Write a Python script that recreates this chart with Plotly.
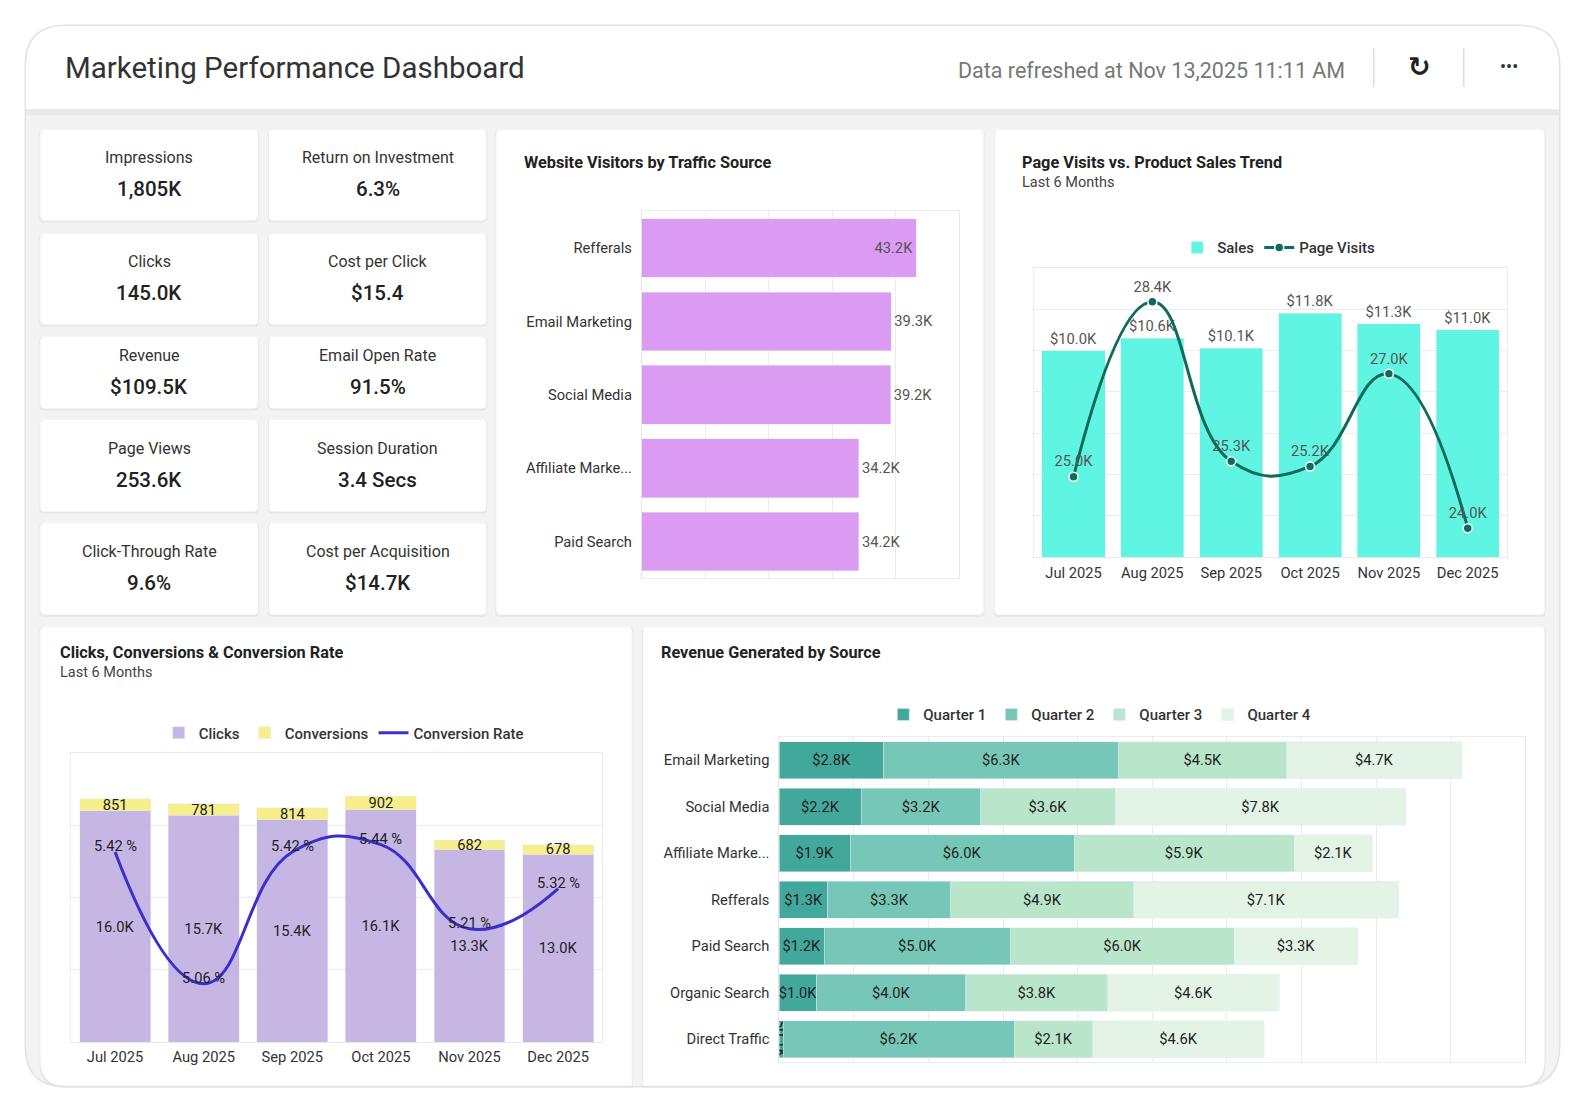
import plotly.graph_objects as go

# ---- data ----
kpi_labels = ["Impressions", "Return on Investment", "Clicks", "Cost per Click",
              "Revenue", "Email Open Rate", "Page Views", "Session Duration",
              "Click-Through Rate", "Cost per Acquisition"]
kpi_values = ["1,805K", "6.3%", "145.0K", "$15.4", "$109.5K", "91.5%",
              "253.6K", "3.4 Secs", "9.6%", "$14.7K"]

traffic_sources = ["Refferals", "Email Marketing", "Social Media", "Affiliate Marke...", "Paid Search"]
visitors_k = [43.2, 39.3, 39.2, 34.2, 34.2]

months = ["Jul 2025", "Aug 2025", "Sep 2025", "Oct 2025", "Nov 2025", "Dec 2025"]
sales_k = [10.0, 10.6, 10.1, 11.8, 11.3, 11.0]
page_visits_k = [25.0, 28.4, 25.3, 25.2, 27.0, 24.0]

clicks_k = [16.0, 15.7, 15.4, 16.1, 13.3, 13.0]
conversions = [851, 781, 814, 902, 682, 678]
conv_rate = [5.42, 5.06, 5.42, 5.44, 5.21, 5.32]

rev_sources = ["Email Marketing", "Social Media", "Affiliate Marke...", "Refferals",
               "Paid Search", "Organic Search", "Direct Traffic"]
quarters = ["Quarter 1", "Quarter 2", "Quarter 3", "Quarter 4"]
rev_q1 = [2.8, 2.2, 1.9, 1.3, 1.2, 1.0, 0.1]
rev_q2 = [6.3, 3.2, 6.0, 3.3, 5.0, 4.0, 6.2]
rev_q3 = [4.5, 3.6, 5.9, 4.9, 6.0, 3.8, 2.1]
rev_q4 = [4.7, 7.8, 2.1, 7.1, 3.3, 4.6, 4.6]

# ---- layout helpers ----
# positions below are measured on a 1569x1100 grid of the page;
# the html body adds an 8px margin, so the figure itself is 1570x1096
W, H = 1569, 1100
FIG_W, FIG_H = 1570, 1096
FONT = "Roboto"
FS = 14.7


def X(x):
    return (x * 1586 / W - 8) / FIG_W


def Y(y):
    return 1 - (y * 1112 / H - 8) / FIG_H


def box(x0, y0, x1, y1, r=(4, 4, 4, 4)):
    tl, tr, br, bl = r
    p = f"M{X(x0 + tl)},{Y(y0)} L{X(x1 - tr)},{Y(y0)} Q{X(x1)},{Y(y0)} {X(x1)},{Y(y0 + tr)} "
    p += f"L{X(x1)},{Y(y1 - br)} Q{X(x1)},{Y(y1)} {X(x1 - br)},{Y(y1)} "
    p += f"L{X(x0 + bl)},{Y(y1)} Q{X(x0)},{Y(y1)} {X(x0)},{Y(y1 - bl)} "
    p += f"L{X(x0)},{Y(y0 + tl)} Q{X(x0)},{Y(y0)} {X(x0 + tl)},{Y(y0)} Z"
    return p


shapes = []
annotations = []


def card(x0, y0, x1, y1, r=(4, 4, 4, 4)):
    shapes.append(dict(type="path", path=box(x0 - 1, y0, x1 + 1, y1 + 2, r), xref="paper", yref="paper",
                       fillcolor="#e7e7e7", line=dict(width=0), layer="below"))
    shapes.append(dict(type="path", path=box(x0, y0, x1, y1, r), xref="paper", yref="paper",
                       fillcolor="white", line=dict(width=0), layer="below"))


def txt(x, y, s, size=FS, color="#333", weight=400, xanchor="left", family=FONT):
    annotations.append(dict(x=X(x), y=Y(y), xref="paper", yref="paper", text=s, showarrow=False,
                            xanchor=xanchor, yanchor="middle",
                            font=dict(family=family, size=size, color=color, weight=weight)))


# outer frame + header
shapes.append(dict(type="path", path=box(25, 25, 1543, 1075, (40, 40, 40, 40)), xref="paper", yref="paper",
                   fillcolor="#f3f3f3", line=dict(width=0), layer="below"))
shapes.append(dict(type="path", path=box(25, 25, 1543, 108, (40, 40, 0, 0)), xref="paper", yref="paper",
                   fillcolor="white", line=dict(width=0), layer="below"))
shapes.append(dict(type="rect", x0=X(25), x1=X(1543), y0=Y(114), y1=Y(108), xref="paper", yref="paper",
                   fillcolor="#e9e9e9", line=dict(width=0), layer="below"))

txt(62, 67, "Marketing Performance Dashboard", size=29.5, color="#333")
txt(1333, 70, "Data refreshed at Nov 13,2025 11:11 AM", size=21.5, color="#777", xanchor="right")
for sx in (1359, 1448):
    shapes.append(dict(type="line", x0=X(sx), x1=X(sx), y0=Y(86), y1=Y(48), xref="paper", yref="paper",
                       line=dict(color="#dddddd", width=1.5), layer="below"))
txt(1404, 66, "↻", size=27, color="#222", weight=700, xanchor="center", family="DejaVu Sans")
txt(1493, 66, "•••", size=18, color="#333", xanchor="center")

# KPI cards
cols = [(40, 255), (266, 481)]
rows = [(128, 218), (231, 321), (333, 404), (415, 506), (517, 608)]
for i, (lab, val) in enumerate(zip(kpi_labels, kpi_values)):
    (cx0, cx1), (cy0, cy1) = cols[i % 2], rows[i // 2]
    card(cx0, cy0, cx1, cy1)
    cx, cy = (cx0 + cx1) / 2, (cy0 + cy1) / 2
    txt(cx, cy - 17, lab, size=16, color="#333", xanchor="center")
    txt(cx, cy + 14, val, size=20.5, color="#222", weight=500, xanchor="center")

# chart cards
card(491, 128, 973, 608)
card(984, 128, 1528, 608)
card(40, 620, 625, 1074, (4, 4, 0, 25))
card(636, 620, 1528, 1074, (4, 4, 25, 0))

txt(516, 161, "Website Visitors by Traffic Source", size=16.3, color="#222", weight=700)
txt(1009, 161, "Page Visits vs. Product Sales Trend", size=16.3, color="#222", weight=700)
txt(1009, 181, "Last 6 Months", size=14.5, color="#444")
txt(57, 645, "Clicks, Conversions & Conversion Rate", size=16.3, color="#222", weight=700)
txt(57, 665, "Last 6 Months", size=14.5, color="#444")
txt(652, 645, "Revenue Generated by Source", size=16.3, color="#222", weight=700)

# outer border on top of the cards
shapes.append(dict(type="path", path=box(25, 25, 1543, 1075, (40, 40, 40, 40)), xref="paper", yref="paper",
                   fillcolor="rgba(0,0,0,0)", line=dict(color="#e2e2e2", width=1.5), layer="below"))

# ---- traces ----
fig = go.Figure()

# Website visitors
fig.add_trace(go.Bar(
    x=visitors_k, y=traffic_sources, orientation="h", marker_color="#db9bf3",
    text=[f"{v:.1f}K" for v in visitors_k],
    textposition=["inside"] + ["outside"] * (len(visitors_k) - 1),
    insidetextanchor="end", constraintext="none",
    textfont=dict(family=FONT, size=FS, color="#555"), cliponaxis=False,
    showlegend=False, xaxis="x", yaxis="y"))

# Page visits vs sales
fig.add_trace(go.Bar(
    x=months, y=sales_k, name="Sales", marker_color="#5ff5e2",
    text=[f"${v:.1f}K" for v in sales_k], textposition="outside", constraintext="none",
    textfont=dict(family=FONT, size=FS, color="#555"), cliponaxis=False,
    xaxis="x2", yaxis="y2", legend="legend"))
fig.add_trace(go.Scatter(
    x=months, y=page_visits_k, name="Page Visits", mode="lines+markers+text",
    line=dict(color="#0f6b5b", width=3, shape="spline", smoothing=1.3),
    marker=dict(size=9, color="#0f6b5b", line=dict(color="white", width=1.5)),
    text=[f"{v:.1f}K" for v in page_visits_k], textposition="top center",
    textfont=dict(family=FONT, size=FS, color="#555"), cliponaxis=False,
    xaxis="x2", yaxis="y3", legend="legend"))

# Clicks / conversions / rate
fig.add_trace(go.Bar(
    x=months, y=clicks_k, name="Clicks", marker_color="#c6b6e4",
    text=[f"{v:.1f}K" for v in clicks_k], textposition="inside", insidetextanchor="middle",
    constraintext="none", textfont=dict(family=FONT, size=FS, color="#222"),
    xaxis="x3", yaxis="y4", legend="legend2"))
fig.add_trace(go.Bar(
    x=months, y=[c / 1000 for c in conversions], name="Conversions", marker_color="#f7ef8c",
    text=[str(c) for c in conversions], textposition="inside", insidetextanchor="middle",
    constraintext="none", textfont=dict(family=FONT, size=FS, color="#222"), cliponaxis=False,
    xaxis="x3", yaxis="y4", legend="legend2"))
fig.add_trace(go.Scatter(
    x=months, y=conv_rate, name="Conversion Rate", mode="lines",
    line=dict(color="#3a2fcc", width=3, shape="spline", smoothing=1.3),
    xaxis="x3", yaxis="y5", legend="legend2"))
for m, r in zip(months, conv_rate):
    annotations.append(dict(x=m, y=r, xref="x3", yref="y5", text=f"{r:.2f} %", showarrow=False, yshift=6,
                            font=dict(family=FONT, size=FS, color="#222")))

# Revenue by source
q_colors = ["#42a89c", "#76c7b7", "#b9e5cb", "#e3f4e6"]
for name, vals, col in zip(quarters, [rev_q1, rev_q2, rev_q3, rev_q4], q_colors):
    fig.add_trace(go.Bar(
        x=vals, y=rev_sources, orientation="h", name=name, marker_color=col,
        text=[f"${v:.1f}K" for v in vals], textposition="inside", insidetextanchor="middle",
        constraintext="none", textfont=dict(family=FONT, size=FS, color="#222"),
        xaxis="x4", yaxis="y6", legend="legend3"))

# ---- axes ----
tickfont = dict(family=FONT, size=FS, color="#333")


def cat_axis(x0, x1, **kw):
    d = dict(domain=[X(x0), X(x1)], showgrid=False, zeroline=False, ticks="", tickfont=tickfont,
             showline=True, linecolor="#e8e8e8", mirror=True, fixedrange=True)
    d.update(kw)
    return d


def val_axis(y0, y1, rng, dtick, **kw):
    d = dict(domain=[Y(y1), Y(y0)], range=rng, dtick=dtick, showgrid=True, gridcolor="#ebebeb",
             zeroline=False, showticklabels=False, showline=True, linecolor="#ececec", mirror=True,
             fixedrange=True)
    d.update(kw)
    return d


legend_style = dict(orientation="h", xanchor="center", yanchor="middle", bgcolor="rgba(0,0,0,0)",
                    traceorder="normal", itemwidth=30,
                    font=dict(family=FONT, size=15, color="#333", weight=500))

fig.update_layout(
    width=FIG_W, height=FIG_H, autosize=False,
    margin=dict(l=0, r=0, t=0, b=0),
    paper_bgcolor="white", plot_bgcolor="rgba(0,0,0,0)",
    barmode="stack", bargap=0.2,
    font=dict(family=FONT, color="#333"),
    shapes=shapes, annotations=annotations,
    # website visitors
    xaxis=dict(domain=[X(635), X(949)], range=[0, 50], dtick=10, showgrid=True, gridcolor="#ebebeb",
               zeroline=False, showticklabels=False, showline=True, linecolor="#ececec", mirror=True,
               fixedrange=True, anchor="y"),
    yaxis=dict(domain=[Y(572), Y(209)], autorange="reversed", showgrid=False, zeroline=False, ticks="",
               tickfont=tickfont, ticklabelstandoff=6, showline=True, linecolor="#e4e4e4", mirror=True,
               fixedrange=True, anchor="x"),
    # page visits vs sales
    xaxis2=cat_axis(1023, 1491, anchor="y2", ticklabelstandoff=2),
    yaxis2=val_axis(265, 551, [0, 14], 2, anchor="x2"),
    yaxis3=dict(overlaying="y2", range=[23.44, 29.06], showgrid=False, showticklabels=False,
                zeroline=False, showline=False, fixedrange=True, anchor="x2"),
    # clicks / conversions
    xaxis3=cat_axis(70, 596, anchor="y4", ticklabelstandoff=1),
    yaxis4=val_axis(745, 1031, [0, 20], 5, anchor="x3"),
    yaxis5=dict(overlaying="y4", range=[4.90, 5.69], showgrid=False, showticklabels=False,
                zeroline=False, showline=False, fixedrange=True, anchor="x3"),
    # revenue
    xaxis4=dict(domain=[X(771), X(1509)], range=[0, 20], dtick=2, showgrid=True, gridcolor="#ebebeb",
                zeroline=False, showticklabels=False, showline=True, linecolor="#ececec", mirror=True,
                fixedrange=True, anchor="y6"),
    yaxis6=dict(domain=[Y(1051), Y(729)], autorange="reversed", showgrid=False, zeroline=False, ticks="",
                tickfont=tickfont, ticklabelstandoff=6, showline=True, linecolor="#e4e4e4", mirror=True,
                fixedrange=True, anchor="x4"),
    legend=dict(legend_style, x=X(1265), y=Y(245)),
    legend2=dict(legend_style, x=X(340), y=Y(725)),
    legend3=dict(legend_style, x=X(1088), y=Y(707)),
)

fig.write_html("out.html")
